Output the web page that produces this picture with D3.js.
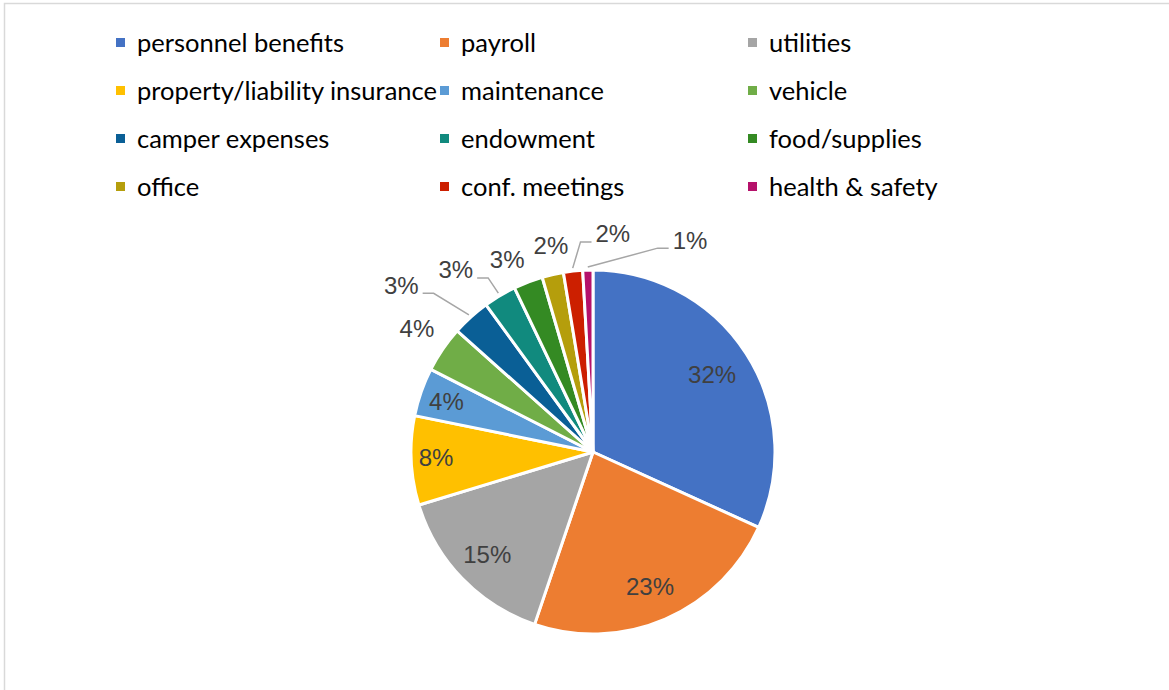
<!DOCTYPE html>
<html>
<head>
<meta charset="utf-8">
<script src="https://cdn.jsdelivr.net/npm/d3@7"></script>
<style>
  body { margin: 0; background: #fff; }
  svg { display: block; }
</style>
</head>
<body>
<svg width="1169" height="690"></svg>
<script>
// data
const categories = ["personnel benefits", "payroll", "utilities", "property/liability insurance",
  "maintenance", "vehicle", "camper expenses", "endowment", "food/supplies", "office",
  "conf. meetings", "health & safety"]
const values = [31.8, 23.4, 15.1, 7.9, 4.3, 4.1, 3.4, 2.9, 2.6, 1.9, 1.7, 0.9]
const colors = ["#4472C4", "#ED7D31", "#A5A5A5", "#FFC000", "#5B9BD5", "#70AD47",
  "#0A5F96", "#118A7E", "#348A23", "#B59E0C", "#CC1F00", "#B5116B"]

// label placement: angle (deg, clockwise from top) and distance from centre, leader line or not
const labelPos = [
  [57, 142, false], [157, 146, false], [226, 147, false], [268, 157, false],
  [289, 155, false], [305, 215, false], [311, 254, true], [323, 228, true],
  [336, 211, false], [348.5, 211, false], [5.2, 219, true], [24.6, 233, true]
]

const svg = d3.select("svg")

// thin frame, like the chart area border
svg.append("rect")
  .attr("x", 4.5).attr("y", 3.5)
  .attr("width", 1200).attr("height", 720)
  .attr("fill", "none")
  .attr("stroke", "#d9d9d9")
  .attr("stroke-width", 1.5)

// legend
const legendX = [116, 440, 748]
const legendY = [43, 91, 139, 187]
const legend = svg.append("g")
categories.forEach((c, i) => {
  const col = i % 3, row = Math.floor(i / 3)
  const g = legend.append("g").attr("transform", "translate(" + legendX[col] + "," + legendY[row] + ")")
  g.append("rect").attr("x", 0).attr("y", -5).attr("width", 9).attr("height", 9).attr("fill", colors[i])
  g.append("text")
    .attr("x", 21).attr("y", 0)
    .attr("dy", "0.35em")
    .attr("font-family", "Lato, 'Open Sans', sans-serif")
    .attr("font-size", 25.5)
    .attr("fill", "#000")
    .text(c)
})

// pie
const cx = 593, cy = 452, radius = 182
const total = d3.sum(values)
const pie = d3.pie().sort(null).value(d => d)
const arcs = pie(values)
const arc = d3.arc().innerRadius(0).outerRadius(radius)

const g = svg.append("g").attr("transform", "translate(" + cx + "," + cy + ")")

g.selectAll("path")
  .data(arcs)
  .enter()
  .append("path")
  .attr("d", arc)
  .attr("fill", (d, i) => colors[i])
  .attr("stroke", "#fff")
  .attr("stroke-width", 3)
  .attr("stroke-linejoin", "round")

const fmt = d3.format(".0%")
const rad = a => a * Math.PI / 180

arcs.forEach((d, i) => {
  const [ang, dist, leader] = labelPos[i]
  const lx = Math.sin(rad(ang)) * dist
  const ly = -Math.cos(rad(ang)) * dist
  const txt = g.append("text")
    .attr("x", lx).attr("y", ly)
    .attr("dy", "0.35em")
    .attr("text-anchor", "middle")
    .attr("font-family", "'Liberation Sans', Arial, sans-serif")
    .attr("font-size", 24)
    .attr("fill", "#404040")
    .text(fmt(d.value / total))
  if (leader) {
    const w = txt.node().getComputedTextLength()
    const mid = (d.startAngle + d.endAngle) / 2
    const px = Math.sin(mid) * (radius + 3)
    const py = -Math.cos(mid) * (radius + 3)
    const side = lx < px ? 1 : -1   // label left of the slice -> line leaves from its right edge
    const ex = lx + side * (w / 2 + 4)
    const ey = ly + 8
    const bx = ex + side * 11
    g.append("polyline")
      .attr("points", [[px, py], [bx, ey], [ex, ey]].map(p => p.join(",")).join(" "))
      .attr("fill", "none")
      .attr("stroke", "#a6a6a6")
      .attr("stroke-width", 1.5)
  }
})
</script>
</body>
</html>
